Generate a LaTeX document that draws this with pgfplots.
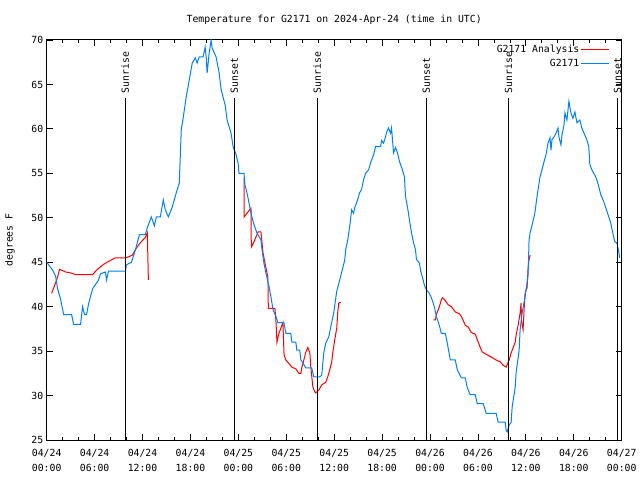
\documentclass[border=0pt]{standalone}
\usepackage{pgfplots}
\pgfplotsset{compat=1.18}
\usepackage{fontspec}
\setmainfont{DejaVu Sans Mono}
\definecolor{obsblue}{RGB}{0,128,255}
\definecolor{anared}{RGB}{255,0,0}
\begin{document}
\fontsize{9.8bp}{11bp}\selectfont
\begin{tikzpicture}[x=1bp,y=1bp]
\path[use as bounding box] (-46.7bp,-40bp) rectangle (593.3bp,440bp);
\begin{axis}[
  scale only axis, width=575bp, height=400bp,
  at={(0,0)}, anchor=south west,
  xmin=0, xmax=72, ymin=25, ymax=70,
  xtick={0,6,...,72},
  xticklabels={{04/24\\00:00},{04/24\\06:00},{04/24\\12:00},{04/24\\18:00},{04/25\\00:00},{04/25\\06:00},{04/25\\12:00},{04/25\\18:00},{04/26\\00:00},{04/26\\06:00},{04/26\\12:00},{04/26\\18:00},{04/27\\00:00}},
  xticklabel style={align=center, font=\fontsize{9.8bp}{15bp}\selectfont, yshift=-6bp},
  minor x tick num=2,
  ytick={25,30,...,70},
  /pgf/number format/assume math mode=true,
  yticklabel style={font=\fontsize{9.8bp}{11bp}\selectfont},
  major tick length=6bp, minor tick length=3bp,
  tick style={black, line width=0.8bp},
  axis line style={black, line width=1bp},
  legend style={at={(rel axis cs:0.985,0.997)}, anchor=north east, draw=none, fill=none,
    font=\fontsize{9.8bp}{11bp}\selectfont, row sep=2.5bp, nodes={inner sep=1.5bp}},
  legend cell align=right,
  legend plot pos=right,
  legend image code/.code={\draw[#1] (0bp,0bp) -- (28bp,0bp);},
]
% Analysis (red)
\addplot[anared, line width=1bp] coordinates {
(0.62,41.5)(0.87,42.1)(1.25,43.0)(1.62,44.2)(1.87,44.1)(2.37,43.9)(3.0,43.8)(3.62,43.6)
(5.74,43.6)(6.24,44.1)(6.74,44.5)(7.36,44.9)(7.99,45.2)(8.61,45.5)(9.86,45.5)(10.23,45.6)
(10.73,45.8)(11.23,46.6)(11.73,47.2)(12.36,47.8)(12.6,48.3)(12.73,43.0)};
\addlegendentry{G2171 Analysis}
\addplot[anared, line width=1bp, forget plot] coordinates {
(24.71,54.5)(24.72,50.1)(25.08,50.5)(25.58,51.1)(25.62,46.7)(25.96,47.3)(26.46,48.4)(26.83,48.4)
(27.08,46.1)(27.33,44.9)(27.58,43.8)(27.7,43.4)(27.75,39.8)(28.58,39.8)(28.7,38.5)(28.83,36.0)
(29.08,37.0)(29.45,37.9)(29.58,38.2)(29.72,34.6)(29.95,34.0)(30.33,33.6)(30.7,33.2)(31.2,33.0)
(31.57,32.5)(31.82,32.5)(31.95,33.2)(32.2,34.0)(32.45,34.9)(32.7,35.4)(32.95,34.8)(33.07,33.2)
(33.2,32.1)(33.32,31.0)(33.57,30.4)(33.7,30.3)(34.07,30.6)(34.44,31.2)(34.94,31.5)(35.19,32.1)
(35.44,32.9)(35.69,33.8)(35.82,34.8)(36.07,36.3)(36.32,37.6)(36.44,39.3)(36.57,40.4)(36.82,40.5)};
\addplot[anared, line width=1bp, forget plot] coordinates {
(48.42,38.5)(48.67,38.5)(48.79,39.1)(49.17,40.0)(49.42,40.8)(49.55,41.0)(49.8,40.8)(50.29,40.2)
(50.67,40.0)(51.17,39.4)(51.67,39.2)(51.92,38.9)(52.42,37.9)(52.79,37.7)(53.16,37.1)(53.66,36.9)
(53.91,36.3)(54.29,35.4)(54.54,34.9)(54.91,34.7)(55.53,34.4)(55.91,34.2)(56.28,34.0)(56.78,33.8)
(57.16,33.4)(57.53,33.2)(57.91,34.0)(58.16,34.8)(58.41,35.4)(58.66,36.0)(58.78,36.8)(59.03,37.9)
(59.28,39.3)(59.4,40.4)(59.46,38.3)(59.65,37.4)(59.78,39.7)(59.9,41.5)(60.03,41.9)(60.15,42.1)
(60.28,44.4)(60.4,45.3)(60.53,45.8)};
% Observations (blue)
\addplot[obsblue, line width=1bp] coordinates {
(0,45.0)(0.75,44.1)(1.12,43.4)(1.37,42.0)(1.75,40.8)(2.12,39.1)(3.12,39.1)(3.37,38.0)(4.24,38.0)
(4.49,40.0)(4.74,39.1)(4.99,39.1)(5.24,40.3)(5.74,42.0)(6.49,43.0)(6.74,43.7)(7.36,43.9)(7.49,43.0)
(7.74,44.0)(9.86,44.0)(9.98,44.7)(10.61,45.0)(11.11,46.4)(11.61,48.1)(12.35,48.1)(12.6,48.9)
(13.1,50.1)(13.48,49.1)(13.73,50.1)(14.23,50.1)(14.6,52.0)(14.85,50.9)(15.23,50.1)(15.72,51.2)
(16.22,52.8)(16.6,53.9)(16.72,56.8)(16.85,59.9)(17.1,61.3)(17.47,63.6)(17.85,65.5)(18.22,67.4)
(18.6,68.0)(18.84,67.4)(19.09,68.1)(19.59,68.1)(19.84,69.2)(19.97,68.1)(20.09,66.3)(20.34,68.5)
(20.59,70.0)(20.71,69.1)(21.21,68.1)(21.59,66.3)(21.84,64.4)(22.34,62.7)(22.59,61.0)(23.09,59.5)
(23.34,58.0)(23.71,57.1)(23.96,56.2)(24.08,55.0)(24.71,55.0)(24.83,53.7)(25.08,52.8)(25.33,51.7)
(25.58,50.5)(25.96,49.2)(26.33,48.3)(26.83,47.5)(26.96,46.4)(27.2,44.9)(27.45,43.8)(27.83,42.3)
(28.08,41.1)(28.33,39.7)(28.7,38.9)(28.95,38.2)(29.7,38.2)(29.95,37.0)(30.57,37.0)(30.7,36.0)
(31.2,36.0)(31.32,35.1)(31.69,35.1)(31.82,34.0)(32.07,33.7)(32.44,33.1)(33.19,33.1)(33.44,32.1)
(34.19,32.1)(34.44,32.3)(34.69,34.8)(34.94,35.9)(35.32,36.6)(35.56,37.7)(35.94,39.3)(36.31,41.7)
(36.69,43.0)(36.94,43.9)(37.31,45.2)(37.44,46.4)(37.69,47.5)(37.94,49.0)(38.18,50.9)(38.43,50.5)
(38.56,51.1)(38.81,51.7)(39.18,52.8)(39.43,53.2)(39.68,54.3)(39.93,55.0)(40.31,55.4)(40.56,56.2)
(40.93,57.1)(41.18,58.0)(41.8,58.0)(41.93,58.7)(42.18,58.4)(42.43,59.1)(42.55,59.6)(42.8,60.1)
(43.05,59.5)(43.18,60.1)(43.43,57.3)(43.68,57.9)(43.93,57.3)(44.18,56.3)(44.43,55.7)(44.8,54.6)
(44.93,52.4)(45.18,51.2)(45.43,49.7)(45.68,48.3)(45.93,47.2)(46.18,46.4)(46.3,45.3)(46.68,44.9)
(46.8,44.1)(47.05,43.3)(47.3,42.4)(47.55,41.9)(47.92,41.5)(48.17,41.0)(48.54,40.0)(48.79,38.9)
(49.16,37.9)(49.41,37.0)(49.91,37.0)(50.16,35.9)(50.54,34.0)(51.16,34.0)(51.41,32.9)(51.91,32.0)
(52.41,32.0)(52.66,30.9)(53.03,30.1)(53.66,30.1)(53.91,29.1)(54.66,29.1)(55.03,28.0)(56.28,28.0)
(56.53,27.0)(57.41,27.0)(57.53,26.1)(57.66,25.9)(57.91,26.7)(58.16,27.0)(58.28,28.7)(58.66,30.9)
(58.78,32.6)(59.16,35.1)(59.28,37.4)(59.53,39.3)(59.9,41.1)(60.15,42.7)(60.28,43.6)(60.4,47.5)
(60.53,48.3)(60.78,49.2)(61.02,50.1)(61.15,50.7)(61.4,52.4)(61.65,53.9)(61.77,54.6)(62.02,55.4)
(62.27,56.3)(62.52,57.1)(62.77,58.4)(63.02,59.0)(63.14,57.6)(63.27,58.8)(63.52,59.1)(63.77,59.5)
(64.02,60.1)(64.14,59.1)(64.39,58.2)(64.52,59.3)(64.77,60.4)(64.89,61.8)(65.14,61.0)(65.39,63.1)
(65.64,61.8)(65.89,61.2)(66.14,61.9)(66.39,60.7)(66.76,61.0)(67.01,60.1)(67.38,59.3)(67.63,58.8)
(67.88,58.0)(68.01,56.0)(68.26,55.4)(68.63,54.8)(68.88,54.3)(69.13,53.5)(69.38,52.6)(69.76,51.8)
(70.01,51.1)(70.38,50.1)(70.63,49.4)(70.88,48.3)(71.13,47.3)(71.38,47.2)(71.63,46.2)(71.75,45.5)};
\addlegendentry{G2171}
% Sunrise / Sunset markers
\addplot[black, line width=1.2bp, forget plot] coordinates {(9.84,25)(9.84,63.5)};
\addplot[black, line width=1.2bp, forget plot] coordinates {(23.49,25)(23.49,63.5)};
\addplot[black, line width=1.2bp, forget plot] coordinates {(33.88,25)(33.88,63.5)};
\addplot[black, line width=1.2bp, forget plot] coordinates {(47.53,25)(47.53,63.5)};
\addplot[black, line width=1.2bp, forget plot] coordinates {(57.83,25)(57.83,63.5)};
\addplot[black, line width=1.2bp, forget plot] coordinates {(71.48,25)(71.48,63.5)};
\node[rotate=90, anchor=west, inner sep=0pt] at (axis cs:9.84,64.0) {Sunrise};
\node[rotate=90, anchor=west, inner sep=0pt] at (axis cs:23.49,64.0) {Sunset};
\node[rotate=90, anchor=west, inner sep=0pt] at (axis cs:33.88,64.0) {Sunrise};
\node[rotate=90, anchor=west, inner sep=0pt] at (axis cs:47.53,64.0) {Sunset};
\node[rotate=90, anchor=west, inner sep=0pt] at (axis cs:57.83,64.0) {Sunrise};
\node[rotate=90, anchor=west, inner sep=0pt] at (axis cs:71.48,64.0) {Sunset};
\end{axis}
\node at (287.5bp,420bp) {Temperature for G2171 on 2024-Apr-24 (time in UTC)};
\node[rotate=90] at (-36.7bp,200bp) {degrees F};
\end{tikzpicture}
\end{document}
